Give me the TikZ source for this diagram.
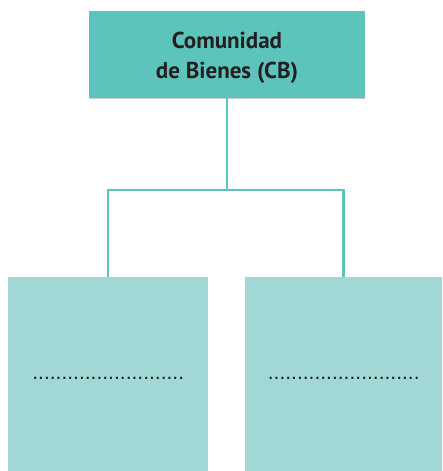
\documentclass[tikz,border=0pt]{standalone}
\usepackage{fontspec}
\setmainfont{PT Sans}
\newfontfamily\dotsfont{Liberation Sans}
\usepackage{tikz}
\usetikzlibrary{positioning, shadows}

\definecolor{cbteal}{HTML}{5CC4BB}
\definecolor{cblight}{HTML}{A1D8D5}
\definecolor{cbtext}{HTML}{231F20}

\begin{document}
\begin{tikzpicture}[
    x=1pt, y=1pt,
    headbox/.style={fill=cbteal, minimum width=276pt, minimum height=87pt, align=center,
        font=\fontsize{23}{30}\selectfont\bfseries, text=cbtext,
        drop shadow={shadow xshift=0pt, shadow yshift=-1.5pt, opacity=0.35, fill=black!60}},
    partbox/.style={fill=cblight, minimum width=200pt, minimum height=194pt, inner sep=0pt,
        font=\dotsfont\fontsize{21}{21}\selectfont, text=cbtext},
    link/.style={draw=cbteal, line width=2.5pt}
]
\useasboundingbox (0,0) rectangle (442,-471);

\node[headbox] (cb) at (227,-54) {\rule{0pt}{24pt}Comunidad\\de Bienes (CB)};
\node[partbox, anchor=north west] (left) at (8,-277) {\raisebox{-11pt}{..........................}};
\node[partbox, anchor=north west, minimum width=197pt] (right) at (245,-277) {\raisebox{-11pt}{..........................}};

\coordinate (fork) at (227,-190);
\draw[link] (cb.south) -- (fork);
\draw[link] (fork) -| (left.north);
\draw[link] (fork) -| (right.north);
\end{tikzpicture}
\end{document}
